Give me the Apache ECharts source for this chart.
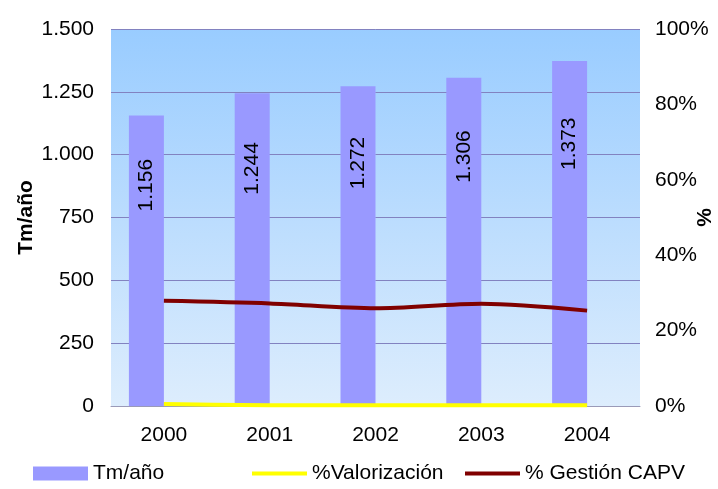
<!DOCTYPE html>
<html>
<head>
<meta charset="utf-8">
<script src="https://cdn.jsdelivr.net/npm/echarts@6/dist/echarts.min.js"></script>
<style>html,body{margin:0;padding:0;background:#fff}#c{width:718px;height:489px}</style>
</head>
<body>
<div id="c"></div>
<script>
var years = ['2000', '2001', '2002', '2003', '2004'];
var tmAno = [1156, 1244, 1272, 1306, 1373];
var valorizacion = [0.5, 0.2, 0.2, 0.2, 0.2];
var gestionCAPV = [27.9, 27.2, 25.9, 27.1, 25.3];
var leftTicks = [0, 250, 500, 750, 1000, 1250, 1500];

var FONT = '"Liberation Sans", Arial, sans-serif';
function fmtThousands(v) {
  var s = String(v);
  return s.replace(/\B(?=(\d{3})+(?!\d))/g, '.');
}

var chart = echarts.init(document.getElementById('c'), null, {renderer: 'canvas'});
chart.setOption({
  animation: false,
  textStyle: {fontFamily: FONT},
  grid: {
    left: 111, right: 78, top: 29, bottom: 83,
    outerBoundsMode: 'none',
    containLabel: false,
    show: true,
    borderWidth: 0,
    backgroundColor: new echarts.graphic.LinearGradient(0, 0, 0, 1, [
      {offset: 0, color: '#99CCFF'},
      {offset: 1, color: '#DDEDFD'}
    ])
  },
  legend: [
    {data: ['Tm/año'], left: 33, top: 463, padding: 0, icon: 'rect', itemWidth: 55, itemHeight: 14,
     textStyle: {fontSize: 21, color: '#000', fontFamily: FONT}},
    {data: ['%Valorización'], left: 252, top: 463, padding: 0, icon: 'rect', itemWidth: 55, itemHeight: 4,
     textStyle: {fontSize: 21, color: '#000', fontFamily: FONT}},
    {data: ['% Gestión CAPV'], left: 465, top: 463, padding: 0, icon: 'rect', itemWidth: 55, itemHeight: 4,
     textStyle: {fontSize: 21, color: '#000', fontFamily: FONT}}
  ],
  xAxis: {
    type: 'category',
    data: years,
    boundaryGap: true,
    axisTick: {show: false},
    axisLine: {show: true, lineStyle: {color: '#9A9AB8', width: 1}},
    axisLabel: {fontSize: 21, color: '#000', margin: 19, fontFamily: FONT}
  },
  yAxis: [
    {
      type: 'value', min: 0, max: 1500, interval: 250,
      name: 'Tm/año', nameLocation: 'middle', nameGap: 74, nameRotate: 90, nameMoveOverlap: false,
      nameTextStyle: {fontSize: 21, fontWeight: 'bold', color: '#000', fontFamily: FONT},
      axisLine: {show: false}, axisTick: {show: false},
      splitLine: {show: true, lineStyle: {color: '#8282C0', width: 1}},
      axisLabel: {fontSize: 21, color: '#000', margin: 17, fontFamily: FONT,
        formatter: function (v) { return fmtThousands(v); }}
    },
    {
      type: 'value', min: 0, max: 100, interval: 20, position: 'right',
      name: '%', nameLocation: 'middle', nameGap: 55, nameRotate: 90, nameMoveOverlap: false,
      nameTextStyle: {fontSize: 21, fontWeight: 'bold', color: '#000', fontFamily: FONT},
      axisLine: {show: false}, axisTick: {show: false},
      splitLine: {show: false},
      axisLabel: {fontSize: 21, color: '#000', margin: 15, fontFamily: FONT, formatter: '{value}%'}
    }
  ],
  series: [
    {
      name: 'Tm/año', type: 'bar', yAxisIndex: 0, data: tmAno,
      barWidth: 35, barGap: '0%',
      itemStyle: {color: '#9999FF'},
      label: {
        show: true, position: ['50%', '24%'], rotate: 90,
        align: 'center', verticalAlign: 'middle',
        fontSize: 21, color: '#000', fontFamily: FONT,
        formatter: function (p) { return fmtThousands(p.value); }
      },
      z: 2
    },
    {
      name: 'hidden', type: 'bar', yAxisIndex: 0, data: years.map(function () { return null; }),
      barWidth: 35, barGap: '0%', silent: true
    },
    {
      name: '%Valorización', type: 'line', yAxisIndex: 1, data: valorizacion,
      smooth: 0.3, symbol: 'none', lineStyle: {color: '#FFFF00', width: 4},
      itemStyle: {color: '#FFFF00'}, z: 3
    },
    {
      name: '% Gestión CAPV', type: 'line', yAxisIndex: 1, data: gestionCAPV,
      smooth: 0.3, symbol: 'none', lineStyle: {color: '#800000', width: 4},
      itemStyle: {color: '#800000'}, z: 4
    }
  ]
});
</script>
</body>
</html>
